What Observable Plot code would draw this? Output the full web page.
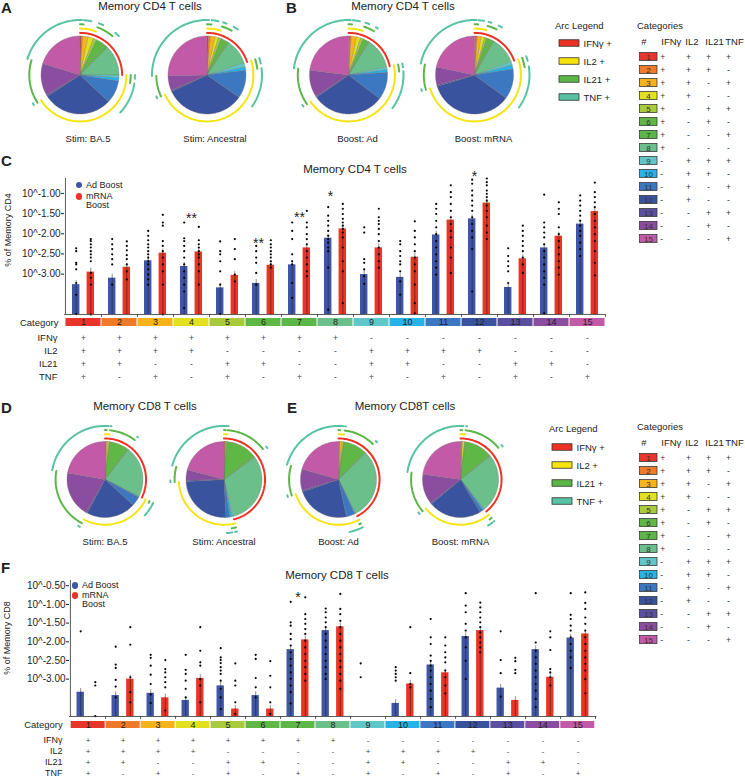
<!DOCTYPE html>
<html><head><meta charset="utf-8">
<script src="https://cdn.jsdelivr.net/npm/d3@7"></script>
<script src="https://cdn.jsdelivr.net/npm/@observablehq/plot@0.6"></script>
<style>
body{margin:0;background:#fff;font-family:"Liberation Sans",Arial,Helvetica,sans-serif;color:#222;}
#root{position:relative;width:745px;height:778px;overflow:hidden;}
#root > div.t{position:absolute;white-space:nowrap;line-height:1;}
#root > div.p{position:absolute;}
</style></head>
<body><div id="root"></div>
<script>
// ---------------- data ----------------
const categories = [1,2,3,4,5,6,7,8,9,10,11,12,13,14,15];
const catColors = ["#e8352b","#ef7b28","#f8b31b","#e3e11f","#a9cb3b","#5fb846","#5cb748","#6bbf8b","#60c7c9","#27b3e8","#3c78c1","#3a539f","#5b4f9f","#8b4d9f","#c25aa7"];
const cytokines = ["IFNγ","IL2","IL21","TNF"];
const ifng = ["+","+","+","+","+","+","+","+","-","-","-","-","-","-","-"];
const il2  = ["+","+","+","+","-","-","-","-","+","+","+","+","-","-","-"];
const il21 = ["+","+","-","-","+","+","-","-","+","+","-","-","+","+","-"];
const tnf  = ["+","-","+","-","+","-","+","-","+","-","+","-","+","-","+"];
const arcLegendItems = ["IFNγ +","IL2 +","IL21 +","TNF +"];
const arcColors = ["#ee3124","#f7e40f","#5cb647","#57c3a4"];

// pie slice shares (per category 1..15)
const cd4StimLabels = ["Stim: BA.5","Stim: Ancestral"];
const cd4BoostLabels = ["Boost: Ad","Boost: mRNA"];
const cd4Ba5  = [2,2,8,8,5,15,5,45,4,5,34,104,2,48,73];
const cd4Anc  = [2,3,7,5,4,8,5,38,6,5,42,120,2,22,91];
const cd4Ad   = [2,2,8,6,4,8,2,46,4,4,41,108,2,40,83];
const cd4Mrna = [2,2,6,5,3,8,4,40,5,6,45,127,2,27,78];
const cd8Ba5  = [1,1,2,2,1,30,1,78,1,1,14,76,2,70,80];
const cd8Anc  = [1,1,1,1,1,47,2,112,2,3,6,90,2,16,75];
const cd8Ad   = [1,1,3,2,1,36,2,107,1,1,13,83,2,33,74];
const cd8Mrna = [1,1,1,3,1,43,2,89,1,2,5,81,2,46,82];

// bar means (log10 % of memory cells)
const cd4AdMean   = [-3.26,-3.10,-2.67,-2.81,-3.34,-3.23,-2.77,-2.11,-3.01,-3.08,-2.03,-1.63,-3.33,-2.35,-1.76];
const cd4MrnaMean = [-2.95,-2.83,-2.48,-2.45,-3.03,-2.78,-2.35,-1.88,-2.35,-2.58,-1.66,-1.24,-2.62,-2.06,-1.45];
const cd8AdMean   = [-3.35,-3.44,-3.38,-3.57,-3.18,-3.44,-2.21,-1.70,-4.00,-3.65,-2.62,-1.86,-3.24,-2.21,-1.90];
const cd8MrnaMean = [-4.00,-3.00,-3.50,-2.98,-3.80,-3.80,-1.95,-1.60,-4.00,-3.13,-2.83,-1.70,-3.57,-2.95,-1.79];

const cd4AdDots = [
 [-2.36,-2.43,-2.72,-2.76,-2.88,-3.22,-3.51,-3.99],
 [-2.13,-2.26,-2.38,-2.51,-2.63,-2.76,-3.26],
 [-1.93,-2.05,-2.16,-2.26,-2.34,-2.43,-2.51,-2.59,-2.68,-2.76,-2.88,-3.01,-3.13,-3.26],
 [-1.72,-2.11,-2.18,-2.30,-2.43,-2.59,-2.76,-2.93,-3.09,-3.26,-3.43,-3.84],
 [-2.19,-2.43,-2.51,-2.68,-2.93,-3.26,-3.99],
 [-2.30,-2.43,-2.59,-2.72,-2.97,-3.26],
 [-1.72,-1.93,-2.13,-2.51,-2.68,-2.76,-3.22,-3.59],
 [-1.34,-1.55,-1.68,-1.80,-1.93,-2.05,-2.13,-2.22,-2.34,-2.43,-2.84,-3.88],
 [-1.84,-1.97,-2.63,-2.72,-2.88,-3.05,-3.24],
 [-2.18,-2.26,-2.43,-2.55,-2.68,-2.76,-2.93,-3.18,-3.51],
 [-1.26,-1.38,-1.51,-1.68,-1.84,-2.01,-2.18,-2.34,-2.51,-2.68,-2.84,-3.01],
 [-0.66,-0.76,-0.93,-1.05,-1.18,-1.30,-1.43,-1.59,-1.76,-1.93,-2.09,-2.38,-3.43],
 [-2.36,-2.55,-2.68,-2.80,-2.93,-3.22],
 [-1.03,-1.72,-1.84,-1.97,-2.09,-2.26,-2.43,-2.59,-2.76,-2.93,-3.09,-3.26,-3.97],
 [-1.05,-1.18,-1.30,-1.43,-1.55,-1.68,-1.80,-1.93,-2.05,-2.22,-2.38,-2.55]
];
const cd4MrnaDots = [
 [-2.13,-2.18,-2.26,-2.34,-2.43,-2.51,-2.59,-2.68,-2.97,-3.09,-3.26,-4.00],
 [-2.19,-2.30,-2.41,-2.53,-2.63,-2.76,-2.93,-3.13],
 [-1.53,-1.72,-1.80,-2.18,-2.30,-2.43,-2.59,-2.76,-2.93,-3.26,-4.00],
 [-1.83,-2.16,-2.26,-2.34,-2.43,-2.51,-2.59,-2.76,-2.93,-3.26],
 [-2.13,-2.38,-2.63,-3.01,-3.18],
 [-2.16,-2.26,-2.34,-2.43,-2.51,-2.59,-2.68,-2.76,-2.84],
 [-1.43,-1.72,-1.84,-2.01,-2.13,-2.26,-2.43,-2.59,-2.76,-2.93,-3.05],
 [-1.26,-1.38,-1.51,-1.63,-1.72,-1.80,-1.88,-1.97,-2.09,-2.34,-2.68,-2.93,-3.72],
 [-1.38,-1.59,-1.68,-1.76,-1.88,-2.01,-2.18,-2.34,-2.51,-2.68,-2.84],
 [-1.69,-1.93,-2.09,-2.26,-2.43,-2.59,-2.76,-2.93,-3.26,-3.72,-3.97],
 [-0.80,-0.97,-1.09,-1.26,-1.43,-1.59,-1.76,-1.93,-2.09,-2.34,-2.59,-2.97],
 [-0.63,-0.72,-0.80,-0.93,-1.01,-1.09,-1.18,-1.30,-1.43,-1.59,-1.80,-1.97,-2.13],
 [-1.80,-1.93,-2.05,-2.18,-2.30,-2.43,-2.59,-2.76,-2.97],
 [-1.22,-1.38,-1.51,-1.84,-2.01,-2.18,-2.34,-2.51,-2.68,-2.84,-3.01],
 [-0.73,-0.97,-1.09,-1.22,-1.34,-1.51,-1.68,-1.84,-2.01,-2.18,-2.43,-2.72,-3.03]
];
const cd8AdDots = [
 [-1.72],
 [-2.13,-2.61,-2.70,-3.02,-3.20,-3.49],
 [-2.35,-2.43,-2.64,-2.88,-3.13,-3.41,-3.64],
 [-2.35,-2.75,-2.86,-3.04,-3.26,-3.49],
 [-2.17,-2.42,-2.49,-2.57,-2.68,-2.77,-2.86,-3.04,-3.26,-3.49,-3.80],
 [-2.35,-2.46,-2.97,-3.22,-3.49],
 [-0.93,-1.48,-1.57,-1.79,-1.93,-2.10,-2.28,-2.46,-2.64,-2.82,-2.99,-3.17,-3.35,-3.65],
 [-1.11,-1.21,-1.35,-1.48,-1.61,-1.79,-1.97,-2.15,-2.33,-2.51,-2.68,-2.86,-3.00],
 [-2.58,-2.95],
 [-2.68,-2.77,-2.86,-2.95,-3.04],
 [-1.39,-1.88,-2.06,-2.37,-2.51,-2.64,-2.77,-2.95,-3.13,-3.31,-3.53,-3.75],
 [-0.70,-1.03,-1.21,-1.52,-1.70,-1.88,-2.15,-2.51,-3.00],
 [-1.72,-2.49,-2.84,-3.47],
 [-0.70,-2.02,-2.24,-2.42,-2.59,-2.77,-2.95,-3.13,-3.31,-3.53,-3.75],
 [-0.70,-1.28,-1.39,-1.57,-1.70,-1.88,-2.06,-2.24,-2.42,-2.70]
];
const cd8MrnaDots = [
 [-3.08,-3.17,-3.99],
 [-1.61,-2.08,-2.95,-3.35,-3.62],
 [-2.49,-2.73,-2.82,-2.95,-3.08,-3.22,-3.84],
 [-1.61,-2.24,-2.55,-2.64,-3.00,-3.17,-3.62],
 [-2.58,-3.04,-3.17,-3.62,-3.93],
 [-2.52,-2.91,-3.22,-3.62,-3.93],
 [-0.81,-1.26,-1.39,-1.52,-1.66,-1.79,-1.97,-2.15,-2.33,-2.51,-2.68,-2.86,-3.04],
 [-0.72,-1.12,-1.26,-1.44,-1.61,-1.79,-1.97,-2.15,-2.33,-2.51,-2.68,-2.86,-3.04,-3.26],
 [],
 [-1.61,-2.84,-3.13,-3.22],
 [-1.88,-2.10,-2.28,-2.42,-2.55,-2.77,-2.95,-3.17,-3.38],
 [-0.95,-1.08,-1.21,-1.35,-1.48,-1.61,-1.75,-1.88,-2.02,-2.15,-2.28],
 [-2.43,-2.52,-2.75,-2.84],
 [-1.72,-1.88,-2.22,-2.73,-2.82,-2.95,-3.17],
 [-0.68,-0.96,-1.12,-1.35,-1.52,-1.70,-1.88,-2.06,-2.24,-2.42,-2.59,-2.77,-3.00,-3.38]
];
const cd4Ticks = [-1,-1.5,-2,-2.5,-3];
const cd8Ticks = [-0.5,-1,-1.5,-2,-2.5,-3];
const cd4SigCats = [4,6,7,8,12], cd4SigText = ["**","**","**","*","*"], cd4SigY = [-1.53,-2.15,-1.50,-0.98,-0.48], cd4SigSide = ["mid","ad","mid","ad","ad"];
const cd8SigCats = [7], cd8SigText = ["*"], cd8SigY = [-0.71], cd8SigSide = ["mid"];

// ---------------- helpers ----------------
const root = document.getElementById("root");
const FONT = "Liberation Sans, Arial, Helvetica, sans-serif";
function text(s, x, y, {size=10, anchor="start", weight="normal", rotate=0}={}) {
  const d = document.createElement("div");
  d.className = "t"; d.textContent = s;
  d.style.left = x + "px"; d.style.top = y + "px";
  d.style.fontSize = size + "px"; d.style.fontWeight = weight;
  const tx = anchor === "middle" ? "-50%" : anchor === "end" ? "-100%" : "0";
  d.style.transform = `translate(${tx},-50%)` + (rotate ? ` rotate(${rotate}deg)` : "");
  root.appendChild(d);
}
function legendDot(x, y, color) {
  const d = document.createElement("div");
  d.className = "t";
  Object.assign(d.style, {left:(x-3.3)+"px", top:(y-3.3)+"px", width:"6.6px", height:"6.6px", borderRadius:"50%", background:color});
  root.appendChild(d);
}
function place(el, x, y) {
  const d = document.createElement("div"); d.className = "p";
  d.style.left = x + "px"; d.style.top = y + "px";
  d.appendChild(el); root.appendChild(d);
}
const baseStyle = {fontFamily: FONT, fontSize: "10px", color: "#222", background: "transparent", overflow: "visible"};

// ---------------- pies ----------------
const signsByCyto = [ifng, il2, il21, tnf];
const ringRadii = [1.08, 1.19, 1.30, 1.41];
function piePlot(labels, shares, spacing, r, labelDx) {
  const slices = [], arcs = [];
  labels.forEach((lab, p) => {
    const w = shares[p], total = d3.sum(w);
    let acc = 0;
    const ang = w.map(v => { const a0 = acc / total * 2 * Math.PI; acc += v; return [a0, acc / total * 2 * Math.PI]; });
    ang.forEach(([a0, a1], i) => {
      const id = lab + "-s" + i;
      slices.push({pie: lab, id, x: 0, y: 0, color: catColors[i]});
      const n = Math.max(2, Math.ceil((a1 - a0) / 0.03));
      for (let k = 0; k <= n; k++) {
        const a = a0 + (a1 - a0) * k / n;
        slices.push({pie: lab, id, x: Math.sin(a), y: Math.cos(a), color: catColors[i]});
      }
    });
    signsByCyto.forEach((signs, ci) => {
      let i = 0;
      while (i < 15) {
        if (signs[i] === "+") {
          let j = i; while (j + 1 < 15 && signs[j + 1] === "+") j++;
          const a0 = ang[i][0], a1 = ang[j][1], R = ringRadii[ci];
          const id = lab + "-a" + ci + "-" + i;
          const n = Math.max(2, Math.ceil((a1 - a0) / 0.03));
          for (let k = 0; k <= n; k++) {
            const a = a0 + (a1 - a0) * k / n;
            arcs.push({pie: lab, id, x: R * Math.sin(a), y: R * Math.cos(a), color: arcColors[ci]});
          }
          i = j + 1;
        } else i++;
      }
    });
  });
  const half = spacing / 2 / r;
  return Plot.plot({
    width: spacing * 2, height: 3 * r + 16,
    marginLeft: 0, marginRight: 0, marginTop: 0, marginBottom: 16,
    style: baseStyle,
    x: {domain: [-half, half], axis: null},
    y: {domain: [-1.5, 1.5], axis: null},
    fx: {domain: labels, padding: 0},
    marks: [
      Plot.line(slices, {fx: "pie", x: "x", y: "y", z: "id", fill: "color", stroke: "#707070", strokeWidth: 0.35, curve: "linear-closed"}),
      Plot.line(arcs, {fx: "pie", x: "x", y: "y", z: "id", stroke: "color", strokeWidth: 2}),
      Plot.axisFx({anchor: "bottom", tickSize: 0, tickPadding: 2, label: null, fontSize: 9.5, dx: labelDx})
    ]
  });
}

// ---------------- bar charts ----------------
function barChart({ad, mrna, adDots, mrnaDots, yDomain, ticks, width, marginLeft, marginRight, sig}) {
  const bw = (width - marginLeft - marginRight) / 15;
  const ins = (bw - 7.5) / 2;
  const off = {Ad: -7.3, mRNA: 7.3};
  const col = {Ad: "#3f56a6", mRNA: "#ee3223"};
  const marks = [];
  for (const g of ["Ad", "mRNA"]) {
    const means = g === "Ad" ? ad : mrna, pts = g === "Ad" ? adDots : mrnaDots;
    const bars = categories.map((c, i) => ({cat: c, v: means[i]}));
    const dots = categories.flatMap((c, i) => pts[i].map(v => ({cat: c, v})));
    marks.push(
      Plot.barY(bars, {x: "cat", y1: yDomain[0], y2: "v", fill: col[g], insetLeft: ins, insetRight: ins, dx: off[g]}),
      Plot.ruleX(bars.filter(d => d.v > yDomain[0]), {x: "cat", y1: yDomain[0], y2: d => d.v + 0.1, stroke: "#1a1a1a", strokeWidth: 0.6, strokeOpacity: 0.8, dx: off[g]}),
      Plot.dot(dots, {x: "cat", y: "v", r: 1.1, fill: "#000", stroke: "none", dx: off[g]})
    );
  }
  const sigData = sig.cats.map((c, i) => ({cat: c, t: sig.text[i], y: sig.y[i], side: sig.side[i]}));
  marks.push(
    Plot.text(sigData.filter(d => d.side === "mid"), {x: "cat", y: "y", text: "t", fontSize: 14, dy: 4}),
    Plot.text(sigData.filter(d => d.side === "ad"), {x: "cat", y: "y", text: "t", fontSize: 14, dy: 4, dx: -5}),
    Plot.ruleY([yDomain[0]], {stroke: "#333", strokeWidth: 0.8}),
    Plot.ruleX([categories[0]], {y1: yDomain[0], y2: yDomain[1], dx: -bw / 2, stroke: "#333", strokeWidth: 0.8}),
    Plot.ruleX(categories, {x: d => d, y1: yDomain[0], y2: yDomain[0], insetBottom: -3, dx: bw / 2, stroke: "#333", strokeWidth: 0.8}),
    Plot.axisY({ticks, tickFormat: d => "10^" + d.toFixed(2), tickSize: 3, tickPadding: 1, fontSize: 10, label: null})
  );
  return Plot.plot({
    width, height: 158, marginLeft, marginRight, marginTop: 18, marginBottom: 4,
    style: baseStyle,
    x: {type: "band", domain: categories, padding: 0, axis: null},
    y: {domain: yDomain},
    marks
  });
}
function strip({width, marginLeft, marginRight, h, pad}) {
  return Plot.plot({
    width, height: h, marginLeft, marginRight, marginTop: 0, marginBottom: 0,
    style: baseStyle,
    x: {type: "band", domain: categories, padding: 0, axis: null},
    y: {type: "band", domain: ["Category"], padding: 0},
    marks: [
      Plot.cell(categories, {x: d => d, y: () => "Category", fill: (d, i) => catColors[i], insetLeft: 0.5, insetRight: 0.5}),
      Plot.text(categories, {x: d => d, y: () => "Category", text: d => String(d), fontSize: 9, fill: "#222"}),
      Plot.axisY({tickSize: 0, tickPadding: pad, fontSize: 9.5, label: null})
    ]
  });
}
function signTable({width, marginLeft, marginRight, rowH, fs}) {
  const rows = cytokines.flatMap((c, k) => categories.map((cat, i) => ({cat, c, s: signsByCyto[k][i]})));
  return Plot.plot({
    width, height: rowH * 4, marginLeft, marginRight, marginTop: 0, marginBottom: 0,
    style: baseStyle,
    x: {type: "band", domain: categories, padding: 0, axis: null},
    y: {type: "band", domain: cytokines, padding: 0},
    marks: [
      Plot.text(rows, {x: "cat", y: "c", text: "s", fontSize: fs, fill: "#444"}),
      Plot.axisY({tickSize: 0, tickPadding: 7, fontSize: fs + 1, label: null})
    ]
  });
}

// ---------------- category tables & arc legends ----------------
function catTable() {
  const cols = ["#", ...cytokines];
  const rows = categories.map(String);
  const vals = categories.flatMap((c, i) => cytokines.map((cy, k) => ({row: String(c), col: cy, s: signsByCyto[k][i]})));
  return Plot.plot({
    width: 108, height: 20 + 202.5 + 4, marginLeft: 0, marginRight: 6, marginTop: 20, marginBottom: 4,
    style: baseStyle,
    x: {type: "band", domain: cols, padding: 0, axis: null},
    y: {type: "band", domain: rows, padding: 0, axis: null},
    marks: [
      Plot.cell(categories, {x: () => "#", y: d => String(d), fill: (d, i) => catColors[i], stroke: "#3a3a3a", strokeWidth: 0.8, insetTop: 2.5, insetBottom: 2.5, insetLeft: 1.5, insetRight: 1}),
      Plot.text(categories, {x: () => "#", y: d => String(d), text: d => String(d), fontSize: 8, fill: "#333"}),
      Plot.text(vals.filter(d => d.col === "IFNγ"), {x: "col", y: "row", text: "s", textAnchor: "start", dx: -8.2, fontSize: 8.5, fill: "#333"}),
      Plot.text(vals.filter(d => d.col !== "IFNγ"), {x: "col", y: "row", text: "s", fontSize: 8.5, fill: "#333"}),
      Plot.text(cols.slice(0, 2), {x: d => d, frameAnchor: "top", dy: -8, text: d => d, textAnchor: "start", dx: -7.2, fontSize: 9.5}),
      Plot.text(cols.slice(2), {x: d => d, frameAnchor: "top", dy: -8, text: d => d, textAnchor: "start", dx: -3.2, fontSize: 9.5})
    ]
  });
}
function arcLegend() {
  return Plot.plot({
    width: 80, height: 74, marginLeft: 4, marginRight: 56, marginTop: 0, marginBottom: 0,
    style: baseStyle,
    x: {type: "band", domain: ["k"], padding: 0, axis: null},
    y: {type: "band", domain: arcLegendItems, padding: 0, axis: null},
    marks: [
      Plot.cell(arcLegendItems, {x: () => "k", y: d => d, fill: (d, i) => arcColors[i], stroke: "#333", strokeWidth: 0.8, insetTop: 5.75, insetBottom: 5.75}),
      Plot.text(arcLegendItems, {x: () => "k", y: d => d, text: d => d, textAnchor: "start", dx: 14, fontSize: 9.5})
    ]
  });
}

// ---------------- layout ----------------
// Panel A / B
text("A", 1, 7, {size: 15, weight: "bold"});
text("Memory CD4 T cells", 150, 7, {size: 11.5, anchor: "middle"});
place(piePlot(cd4StimLabels, [cd4Ba5, cd4Anc], 127, 39, 8), 15.5, 15.5);
text("B", 286, 7, {size: 15, weight: "bold"});
text("Memory CD4 T cells", 403, 7, {size: 11.5, anchor: "middle"});
place(piePlot(cd4BoostLabels, [cd4Ad, cd4Mrna], 126, 39, 9), 285, 15.5);
text("Arc Legend", 555, 26, {size: 9.5});
place(arcLegend(), 555, 33);
text("Categories", 637, 26, {size: 9.5});
place(catTable(), 637, 25.5);

// Panel C
text("C", 1, 160, {size: 15, weight: "bold"});
text("Memory CD4 T cells", 355, 170, {size: 11.5, anchor: "middle"});
place(barChart({ad: cd4AdMean, mrna: cd4MrnaMean, adDots: cd4AdDots, mrnaDots: cd4MrnaDots,
  yDomain: [-4, -0.63], ticks: cd4Ticks, width: 610, marginLeft: 64, marginRight: 5,
  sig: {cats: cd4SigCats, text: cd4SigText, y: cd4SigY, side: cd4SigSide}}), 0, 160);
legendDot(79, 185, "#3f56a6"); text("Ad Boost", 86, 185, {size: 9});
legendDot(79, 196.5, "#ee3223"); text("mRNA", 86, 196, {size: 9}); text("Boost", 86, 205, {size: 9});
text("% of Memory CD4", 8, 230, {size: 9, anchor: "middle", rotate: -90});
place(strip({width: 610, marginLeft: 64, marginRight: 5, h: 8, pad: 6}), 0, 318);
place(signTable({width: 610, marginLeft: 64, marginRight: 5, rowH: 13.2, fs: 8.5}), 0, 331);

// Panel D / E
text("D", 1, 407, {size: 15, weight: "bold"});
text("Memory CD8 T cells", 145, 407, {size: 11.5, anchor: "middle"});
place(piePlot(cd4StimLabels, [cd8Ba5, cd8Anc], 119, 38, 0), 44.5, 422);
text("E", 287, 407, {size: 15, weight: "bold"});
text("Memory CD8T cells", 405, 407, {size: 11.5, anchor: "middle"});
place(piePlot(cd4BoostLabels, [cd8Ad, cd8Mrna], 122, 38, 0), 277, 422);
text("Arc Legend", 549, 429, {size: 9.5});
place(arcLegend(), 548, 437);
text("Categories", 637, 427, {size: 9.5});
place(catTable(), 637, 426.5);

// Panel F
text("F", 1, 567, {size: 15, weight: "bold"});
text("Memory CD8 T cells", 337, 576, {size: 11.5, anchor: "middle"});
place(barChart({ad: cd8AdMean, mrna: cd8MrnaMean, adDots: cd8AdDots, mrnaDots: cd8MrnaDots,
  yDomain: [-4, -0.36], ticks: cd8Ticks, width: 600, marginLeft: 69, marginRight: 3.6,
  sig: {cats: cd8SigCats, text: cd8SigText, y: cd8SigY, side: cd8SigSide}}), 0, 562);
legendDot(75, 585.7, "#3f56a6"); text("Ad Boost", 82, 585, {size: 9});
legendDot(75, 595.5, "#ee3223"); text("mRNA", 82, 595, {size: 9}); text("Boost", 82, 604, {size: 9});
text("% of Memory CD8", 7, 638, {size: 9, anchor: "middle", rotate: -90});
place(strip({width: 600, marginLeft: 69, marginRight: 3.6, h: 7.6, pad: 7}), 0, 721);
place(signTable({width: 600, marginLeft: 69, marginRight: 3.6, rowH: 11.2, fs: 8}), 0, 733.5);
</script>
</body></html>
